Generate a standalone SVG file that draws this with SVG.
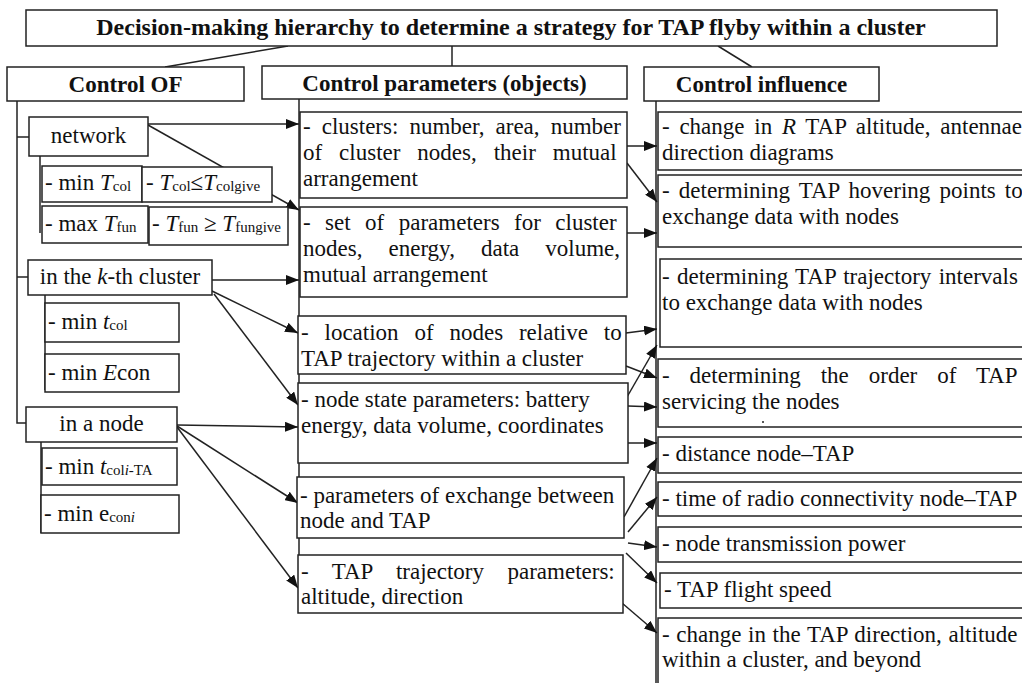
<svg xmlns="http://www.w3.org/2000/svg" width="1022" height="683" viewBox="0 0 1022 683">
<style>
.box{fill:#fff;stroke:#222;stroke-width:1.5}
.t{font-family:"Liberation Serif","Times New Roman",serif;font-size:23px;fill:#111}
.b{font-weight:bold}
.c{text-anchor:middle}
.i{font-style:italic}
.s{font-size:15px}
.ln{stroke:#222;stroke-width:1.5;fill:none}
.ar{stroke:#222;stroke-width:1.5;fill:none;marker-end:url(#ah)}
</style>
<defs>
<marker id="ah" markerUnits="userSpaceOnUse" markerWidth="13" markerHeight="10" refX="13" refY="5" orient="auto">
<path d="M0,0 L13,5 L0,10 z" fill="#111"/>
</marker>
</defs>
<rect width="1022" height="683" fill="#fff"/>

<g id="connectors">
<line class="ln" x1="288" y1="46" x2="165" y2="67"/>
<line class="ln" x1="452" y1="46" x2="452" y2="66"/>
<line class="ln" x1="718" y1="46" x2="752" y2="67"/>
<polyline class="ln" points="17,101 17,423 26,423"/>
<line class="ln" x1="17" y1="137" x2="29" y2="137"/>
<line class="ln" x1="17" y1="277" x2="28" y2="277"/>
<line class="ln" x1="40" y1="156" x2="40" y2="233"/>
<line class="ln" x1="45" y1="295" x2="45" y2="390"/>
<line class="ln" x1="41" y1="442" x2="41" y2="533"/>
<line class="ln" x1="299" y1="99" x2="299" y2="613"/>
<line class="ln" x1="656" y1="101" x2="656" y2="683"/>
<line class="ar" x1="148" y1="124" x2="299" y2="124"/>
<line class="ar" x1="148" y1="125" x2="299" y2="210"/>
<line class="ar" x1="212" y1="280" x2="299" y2="280"/>
<line class="ar" x1="212" y1="291" x2="298" y2="333"/>
<line class="ar" x1="214" y1="294" x2="298" y2="405"/>
<line class="ar" x1="177" y1="425" x2="298" y2="427"/>
<line class="ar" x1="177" y1="426" x2="298" y2="503"/>
<line class="ar" x1="177" y1="427" x2="298" y2="588"/>
<line class="ar" x1="627" y1="146" x2="657" y2="146"/>
<line class="ar" x1="627" y1="163" x2="657" y2="202"/>
<line class="ar" x1="627" y1="233" x2="657" y2="233"/>
<line class="ar" x1="626" y1="333" x2="657" y2="329"/>
<line class="ar" x1="626" y1="366" x2="657" y2="378"/>
<line class="ar" x1="627" y1="397" x2="657" y2="345"/>
<line class="ar" x1="628" y1="406" x2="657" y2="407"/>
<line class="ar" x1="628" y1="443" x2="657" y2="443"/>
<line class="ar" x1="624" y1="517" x2="657" y2="458"/>
<line class="ar" x1="628" y1="532" x2="657" y2="497"/>
<line class="ar" x1="628" y1="543" x2="657" y2="547"/>
<line class="ar" x1="626" y1="553" x2="657" y2="583"/>
<line class="ar" x1="622" y1="603" x2="657" y2="633"/>
</g>

<g id="title">
<rect class="box" x="26" y="10" width="971" height="36"/>
<text class="t b c" x="511" y="35" style="font-size:24px">Decision-making hierarchy to determine a strategy for TAP flyby within a cluster</text>
</g>

<g id="h-control-of">
<rect class="box" x="7" y="67" width="237" height="34"/>
<text class="t b c" x="125.5" y="92">Control OF</text>
</g>
<g id="h-control-parameters">
<rect class="box" x="262" y="66" width="365" height="33"/>
<text class="t b c" x="444.5" y="91">Control parameters (objects)</text>
</g>
<g id="h-control-influence">
<rect class="box" x="644" y="67" width="235" height="34"/>
<text class="t b c" x="761.5" y="92">Control influence</text>
</g>

<g id="n-network">
<rect class="box" x="29" y="117" width="119" height="39"/>
<text class="t c" x="88.5" y="143">network</text>
</g>
<g id="n-min-Tcol">
<rect class="box" x="42" y="166" width="100" height="36"/>
<text class="t" x="45" y="190">- min <tspan class="i">T</tspan><tspan class="s" dy="1">col</tspan></text>
</g>
<g id="n-Tcol-give">
<rect class="box" x="142" y="167" width="130" height="35"/>
<text class="t" x="146" y="190">- <tspan class="i">T</tspan><tspan class="s" dy="1">col</tspan><tspan dy="-1">≤</tspan><tspan class="i">T</tspan><tspan class="s" dy="1">colgive</tspan></text>
</g>
<g id="n-max-Tfun">
<rect class="box" x="42" y="206" width="106" height="37"/>
<text class="t" x="45" y="231">- max <tspan class="i">T</tspan><tspan class="s" dy="1">fun</tspan></text>
</g>
<g id="n-Tfun-give">
<rect class="box" x="149" y="207" width="139" height="38"/>
<text class="t" x="152" y="231">- <tspan class="i">T</tspan><tspan class="s" dy="1">fun</tspan><tspan dy="-1"> ≥ </tspan><tspan class="i">T</tspan><tspan class="s" dy="1">fungive</tspan></text>
</g>
<g id="n-kth-cluster">
<rect class="box" x="28" y="260" width="184" height="35"/>
<text class="t c" x="120" y="284">in the <tspan class="i">k</tspan>-th cluster</text>
</g>
<g id="n-min-tcol">
<rect class="box" x="45" y="303" width="134" height="39"/>
<text class="t" x="48" y="329">- min <tspan class="i">t</tspan><tspan class="s" dy="1">col</tspan></text>
</g>
<g id="n-min-Econ">
<rect class="box" x="45" y="354" width="134" height="38"/>
<text class="t" x="48" y="380">- min <tspan class="i">E</tspan>con</text>
</g>
<g id="n-in-node">
<rect class="box" x="26" y="407" width="151" height="35"/>
<text class="t c" x="101.5" y="431">in a node</text>
</g>
<g id="n-min-tcoli">
<rect class="box" x="42" y="448" width="135" height="37"/>
<text class="t" x="45" y="474">- min <tspan class="i">t</tspan><tspan class="s" dy="1">col</tspan><tspan class="s i">i</tspan><tspan class="s">-TA</tspan></text>
</g>
<g id="n-min-econi">
<rect class="box" x="41" y="495" width="138" height="38"/>
<text class="t" x="44" y="521">- min e<tspan class="s" dy="1">con</tspan><tspan class="s i">i</tspan></text>
</g>

<g id="p-clusters">
<rect class="box" x="300" y="112" width="327" height="86"/>
<text class="t" x="303" y="134" style="word-spacing:5.3px">- clusters: number, area, number</text>
<text class="t" x="303" y="160" style="word-spacing:11.2px">of cluster nodes, their mutual</text>
<text class="t" x="303" y="186">arrangement</text>
</g>
<g id="p-set">
<rect class="box" x="300" y="207" width="327" height="90"/>
<text class="t" x="303" y="230" style="word-spacing:8.7px">- set of parameters for cluster</text>
<text class="t" x="303" y="256" style="word-spacing:20.3px">nodes, energy, data volume,</text>
<text class="t" x="303" y="282">mutual arrangement</text>
</g>
<g id="p-location">
<rect class="box" x="298" y="316" width="328" height="58"/>
<text class="t" x="301" y="340" style="word-spacing:10.1px">- location of nodes relative to</text>
<text class="t" x="301" y="366">TAP trajectory within a cluster</text>
</g>
<g id="p-node-state">
<rect class="box" x="298" y="383" width="330" height="80"/>
<text class="t" x="301" y="407">- node state parameters: battery</text>
<text class="t" x="301" y="433">energy, data volume, coordinates</text>
</g>
<g id="p-exchange">
<rect class="box" x="297" y="477" width="327" height="61"/>
<text class="t" x="300" y="503">- parameters of exchange between</text>
<text class="t" x="300" y="528">node and TAP</text>
</g>
<g id="p-trajectory">
<rect class="box" x="298" y="555" width="325" height="58"/>
<text class="t" x="301" y="579" style="word-spacing:17.7px">- TAP trajectory parameters:</text>
<text class="t" x="301" y="604">altitude, direction</text>
</g>

<g id="i-change-R">
<rect class="box" x="658" y="112" width="380" height="58"/>
<text class="t" x="662" y="134" style="word-spacing:4px">- change in <tspan class="i">R</tspan> TAP altitude, antennae</text>
<text class="t" x="662" y="160">direction diagrams</text>
</g>
<g id="i-hovering">
<rect class="box" x="658" y="175" width="380" height="72"/>
<text class="t" x="662" y="198" style="word-spacing:3.4px">- determining TAP hovering points to</text>
<text class="t" x="662" y="224">exchange data with nodes</text>
</g>
<g id="i-intervals">
<rect class="box" x="660" y="259" width="380" height="88"/>
<text class="t" x="662" y="284" style="word-spacing:1.6px">- determining TAP trajectory intervals</text>
<text class="t" x="662" y="310">to exchange data with nodes</text>
</g>
<g id="i-order">
<rect class="box" x="658" y="359" width="380" height="68"/>
<text class="t" x="662" y="383" style="word-spacing:14.2px">- determining the order of TAP</text>
<text class="t" x="662" y="409">servicing the nodes</text>
<circle cx="763" cy="422" r="1" fill="#222"/>
</g>
<g id="i-distance">
<rect class="box" x="658" y="437" width="380" height="36"/>
<text class="t" x="662" y="461">- distance node–TAP</text>
</g>
<g id="i-radio-time">
<rect class="box" x="658" y="482" width="380" height="34"/>
<text class="t" x="662" y="506">- time of radio connectivity node–TAP</text>
</g>
<g id="i-power">
<rect class="box" x="658" y="527" width="380" height="35"/>
<text class="t" x="662" y="551">- node transmission power</text>
</g>
<g id="i-speed">
<rect class="box" x="660" y="573" width="380" height="35"/>
<text class="t" x="664" y="597">- TAP flight speed</text>
</g>
<g id="i-direction">
<rect class="box" x="658" y="618" width="380" height="90"/>
<text class="t" x="662" y="642" style="word-spacing:0.9px">- change in the TAP direction, altitude</text>
<text class="t" x="662" y="667">within a cluster, and beyond</text>
</g>
</svg>
